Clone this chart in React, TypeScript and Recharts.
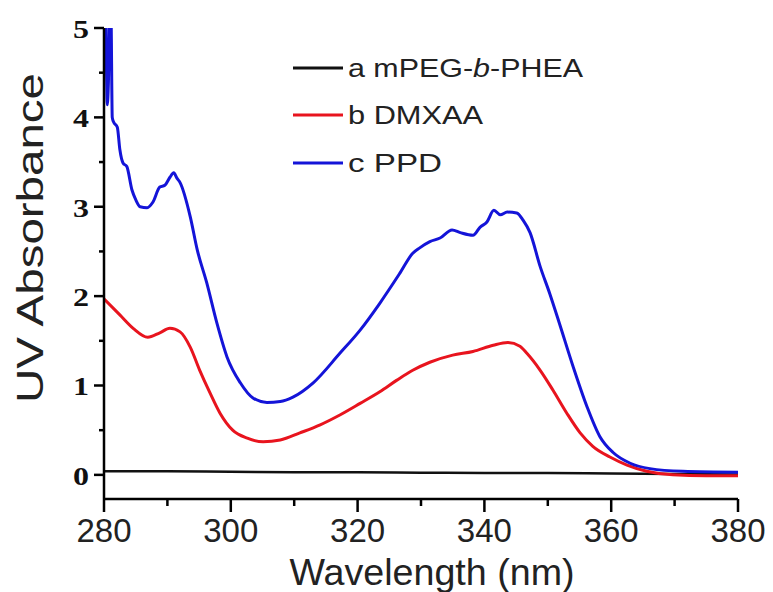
import React from "react";
import { LineChart, Line, XAxis, YAxis, Legend } from "recharts";

// ---- data ----
const xTicks = [280, 290, 300, 310, 320, 330, 340, 350, 360, 370, 380];
const yTicks = [0, 0.5, 1, 1.5, 2, 2.5, 3, 3.5, 4, 4.5, 5];

const wlA = [280, 290, 300, 310, 320, 330, 340, 350, 360, 370, 380];
const absA = [0.04, 0.04, 0.035, 0.03, 0.03, 0.025, 0.02, 0.02, 0.015, 0.01, 0.005];

const wlB = [
  280.0, 282.5, 284.6, 286.9, 288.8, 290.4, 292.0, 293.6, 295.1, 296.7, 298.3,
  300.3, 302.6, 305.1, 307.8, 310.9, 314.1, 317.2, 320.4, 323.5, 326.2, 328.7,
  331.4, 335.0, 338.2, 341.4, 343.7, 345.6, 346.7, 348.8, 350.8, 353.0, 355.1,
  357.1, 359.8, 362.5, 365.6, 369.7, 375.0, 380.0,
];
const absB = [
  1.97, 1.79, 1.64, 1.54, 1.59, 1.64, 1.6, 1.43, 1.17, 0.92, 0.69,
  0.5, 0.41, 0.37, 0.39, 0.47, 0.56, 0.67, 0.8, 0.93, 1.06, 1.17,
  1.26, 1.34, 1.38, 1.45, 1.48, 1.44, 1.36, 1.17, 0.95, 0.69, 0.47,
  0.32, 0.2, 0.11, 0.04, 0.0, -0.01, -0.01,
];

const wlC = [
  280.0, 280.2, 280.4, 280.5, 280.7, 280.9, 281.1, 281.3, 281.5, 282.1, 282.5,
  283.0, 283.6, 284.4, 285.0, 285.7, 286.8, 287.7, 288.8, 289.6, 290.4, 291.0,
  291.5, 292.0, 293.6, 294.7, 296.2, 297.8, 299.4, 301.5, 303.5, 305.7, 307.8,
  309.8, 313.0, 317.2, 320.4, 323.5, 326.7, 328.7, 329.8, 331.4, 333.0, 334.9,
  336.2, 338.2, 339.3, 340.4, 341.5, 342.5, 343.6, 345.1, 346.1, 347.2, 348.8,
  350.3, 351.9, 354.0, 356.2, 358.2, 360.3, 363.0, 366.1, 371.3, 380.0,
];
const absC = [
  5.3, 5.3, 4.5, 4.14, 4.4, 5.3, 5.2, 4.0, 3.95, 3.89, 3.64,
  3.49, 3.45, 3.19, 3.08, 3.0, 2.99, 3.05, 3.22, 3.24, 3.33, 3.38,
  3.32, 3.27, 2.89, 2.52, 2.15, 1.7, 1.32, 1.03, 0.86, 0.81, 0.82,
  0.87, 1.03, 1.36, 1.62, 1.92, 2.26, 2.48, 2.54, 2.61, 2.65, 2.74,
  2.71, 2.68, 2.77, 2.83, 2.96, 2.91, 2.94, 2.93, 2.85, 2.71, 2.33,
  2.03, 1.68, 1.21, 0.76, 0.43, 0.25, 0.13, 0.07, 0.04, 0.03,
];

const seriesNames = ["a mPEG-b-PHEA", "b DMXAA", "c PPD"];
const seriesColors = ["#111111", "#e8141e", "#1414d8"];

const toRows = (wl: number[], v: number[]) => wl.map((w, i) => ({ wl: w, abs: v[i] }));
const dataA = toRows(wlA, absA);
const dataB = toRows(wlB, absB);
const dataC = toRows(wlC, absC);

const SANS = "'Liberation Sans', Arial, sans-serif";
const SERIF = "'Liberation Serif', 'Times New Roman', serif";

const YTick = (props: any) => {
  const { x, y, payload } = props;
  const major = Number.isInteger(payload.value);
  return (
    <g>
      <line x1={x} x2={x - (major ? 10 : 5)} y1={y} y2={y} stroke="#000" strokeWidth={2.5} />
      {major && (
        <text
          x={x - 15}
          y={y + 10}
          textAnchor="end"
          fontFamily={SERIF}
          fontWeight="bold"
          fontSize={25}
          fill="#111"
          textLength={16}
          lengthAdjust="spacingAndGlyphs"
        >
          {payload.value}
        </text>
      )}
    </g>
  );
};

const XTick = (props: any) => {
  const { x, y, payload } = props;
  const major = payload.value % 20 === 0;
  return (
    <g>
      <line x1={x} x2={x} y1={y} y2={y + (major ? 13 : 7)} stroke="#000" strokeWidth={2.5} />
      {major && (
        <text x={x} y={y + 43} textAnchor="middle" fontFamily={SANS} fontSize={33} fill="#222">
          {payload.value}
        </text>
      )}
    </g>
  );
};

const LegendBox = () => {
  const rows = [
    { y: 23, len: 235 },
    { y: 70, len: 135 },
    { y: 118, len: 94 },
  ];
  return (
    <svg width={320} height={140}>
      {rows.map((r, i) => (
        <g key={i}>
          <line x1={8} x2={58} y1={r.y} y2={r.y} stroke={seriesColors[i]} strokeWidth={3} />
          <text
            x={63}
            y={r.y + 9}
            fontFamily={SANS}
            fontSize={26}
            fill="#222"
            textLength={r.len}
            lengthAdjust="spacingAndGlyphs"
          >
            {i === 0 ? (
              <>
                <tspan>a mPEG-</tspan>
                <tspan fontStyle="italic">b</tspan>
                <tspan>-PHEA</tspan>
              </>
            ) : (
              seriesNames[i]
            )}
          </text>
        </g>
      ))}
    </svg>
  );
};

const XLabel = (props: any) => {
  const vb = props.viewBox || { x: 104, y: 499, width: 634 };
  return (
    <text
      x={vb.x + vb.width / 2 + 11}
      y={vb.y + 86}
      textAnchor="middle"
      fontFamily={SANS}
      fontSize={37}
      fill="#222"
      textLength={285}
      lengthAdjust="spacingAndGlyphs"
    >
      Wavelength (nm)
    </text>
  );
};

const YLabel = (props: any) => {
  return (
    <text
      x={43}
      y={238}
      transform="rotate(-90 43 238)"
      textAnchor="middle"
      fontFamily={SANS}
      fontSize={36}
      fill="#222"
      textLength={330}
      lengthAdjust="spacingAndGlyphs"
    >
      UV Absorbance
    </text>
  );
};

export default function App() {
  return (
    <div style={{ position: "absolute", left: 0, top: 0, width: 773, height: 592, background: "#fff" }}>
      <LineChart width={773} height={592} margin={{ top: 28, right: 35, bottom: 0, left: 4 }}>
        <XAxis
          xAxisId="main"
          dataKey="wl"
          type="number"
          domain={[280, 380]}
          ticks={xTicks}
          interval={0}
          height={93}
          tickSize={0}
          tickMargin={0}
          tickLine={false}
          tick={<XTick />}
          axisLine={{ stroke: "#000", strokeWidth: 2.5 }}
          allowDataOverflow
          label={<XLabel />}
        />
        <XAxis
          xAxisId="top"
          orientation="top"
          dataKey="wl"
          type="number"
          domain={[280, 380]}
          height={0}
          tick={false}
          tickLine={false}
          axisLine={{ stroke: "#000", strokeWidth: 2.5 }}
        />
        <YAxis
          yAxisId="main"
          type="number"
          domain={[-0.27, 5]}
          ticks={yTicks}
          interval={0}
          width={100}
          tickSize={0}
          tickMargin={0}
          tickLine={false}
          tick={<YTick />}
          axisLine={{ stroke: "#000", strokeWidth: 2.5 }}
          allowDataOverflow
          label={<YLabel />}
        />
        <YAxis
          yAxisId="right"
          orientation="right"
          type="number"
          domain={[-0.27, 5]}
          width={0}
          tick={false}
          tickLine={false}
          axisLine={{ stroke: "#000", strokeWidth: 2.5 }}
        />
        <Legend
          layout="horizontal"
          verticalAlign="middle"
          align="center"
          wrapperStyle={{ left: 285, top: 45, width: 320, height: 140 }}
          content={<LegendBox />}
        />
        <Line
          xAxisId="main"
          yAxisId="main"
          data={dataA}
          dataKey="abs"
          name={seriesNames[0]}
          type="monotone"
          stroke={seriesColors[0]}
          strokeWidth={2.5}
          dot={false}
          isAnimationActive={false}
        />
        <Line
          xAxisId="main"
          yAxisId="main"
          data={dataB}
          dataKey="abs"
          name={seriesNames[1]}
          type="monotone"
          stroke={seriesColors[1]}
          strokeWidth={3}
          dot={false}
          isAnimationActive={false}
        />
        <Line
          xAxisId="main"
          yAxisId="main"
          data={dataC}
          dataKey="abs"
          name={seriesNames[2]}
          type="monotone"
          stroke={seriesColors[2]}
          strokeWidth={3}
          dot={false}
          isAnimationActive={false}
        />
      </LineChart>
    </div>
  );
}
